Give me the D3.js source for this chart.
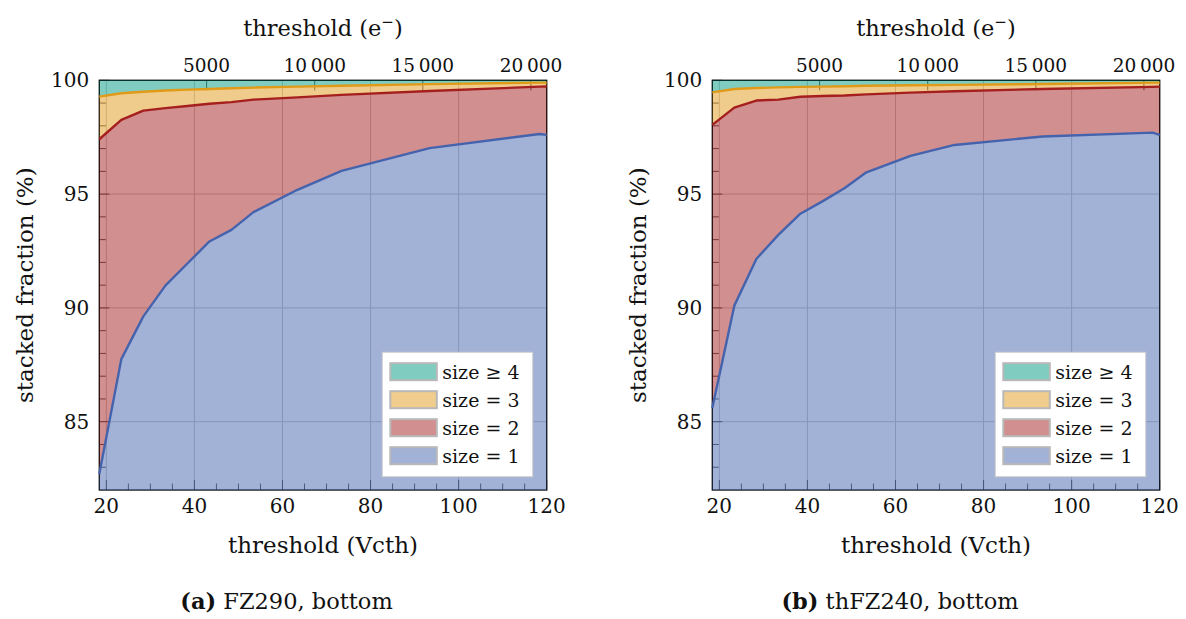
<!DOCTYPE html>
<html>
<head>
<meta charset="utf-8">
<script src="https://cdn.jsdelivr.net/npm/d3@7"></script>
<style>
  html, body { margin: 0; padding: 0; background: #fff; }
  svg { display: block; }
  text { font-family: "DejaVu Serif", serif; fill: #111; }
</style>
</head>
<body>
<svg id="chart" width="1186" height="619"></svg>
<script>
// ---------------- data ----------------
const vcth = [18.4, 23.4, 28.4, 33.4, 38.4, 43.4, 48.4, 53.4, 63.4, 73.4, 93.4, 118.4, 120];

// FZ290, bottom (fractions in %)
const fz290Size1 = [82.7, 87.75, 89.63, 90.98, 91.95, 92.92, 93.43, 94.21, 95.19, 96.02, 97.02, 97.64, 97.6];
const fz290Size2 = [14.71, 10.51, 9.04, 7.80, 6.92, 6.05, 5.61, 4.94, 4.06, 3.34, 2.51, 2.08, 2.13];
const fz290Size3 = [1.87, 1.17, 0.83, 0.77, 0.72, 0.65, 0.61, 0.53, 0.47, 0.40, 0.30, 0.18, 0.17];
const fz290Size4 = [0.72, 0.57, 0.50, 0.45, 0.41, 0.38, 0.35, 0.32, 0.28, 0.24, 0.17, 0.10, 0.10];

// thFZ240, bottom (fractions in %)
const th240Size1 = [85.6, 90.1, 92.15, 93.21, 94.14, 94.68, 95.26, 95.96, 96.68, 97.16, 97.53, 97.70, 97.6];
const th240Size2 = [12.44, 8.70, 6.96, 5.94, 5.14, 4.63, 4.07, 3.42, 2.78, 2.36, 2.09, 2.01, 2.12];
const th240Size3 = [1.43, 0.82, 0.55, 0.54, 0.43, 0.41, 0.41, 0.38, 0.32, 0.28, 0.22, 0.19, 0.18];
const th240Size4 = [0.53, 0.38, 0.34, 0.31, 0.29, 0.28, 0.26, 0.24, 0.22, 0.20, 0.16, 0.10, 0.10];

const seriesKeys = ["s1", "s2", "s3", "s4"];
const legendLabels = ["size = 1", "size = 2", "size = 3", "size \u2265 4"];

const xDomain = [18.4, 120];
const yDomain = [82, 100];
const electronDomain = [36, 20730];   // top axis range matching Vcth 18.4 .. 120

const xMajorTicks = [20, 40, 60, 80, 100, 120];
const xMinorTicks = [25, 30, 35, 45, 50, 55, 65, 70, 75, 85, 90, 95, 105, 110, 115];
const yMajorTicks = [85, 90, 95, 100];
const yMinorTicks = [83, 84, 86, 87, 88, 89, 91, 92, 93, 94, 96, 97, 98, 99];
const topTicks = [5000, 10000, 15000, 20000];
const topTickLabels = ["5000", "10\u2009000", "15\u2009000", "20\u2009000"];

const panels = [
  { x0: 99.3, letter: "(a)", caption: " FZ290, bottom", capCx: 286.5,
    series: [fz290Size1, fz290Size2, fz290Size3, fz290Size4] },
  { x0: 712.3, letter: "(b)", caption: " thFZ240, bottom", capCx: 900,
    series: [th240Size1, th240Size2, th240Size3, th240Size4] }
];

// ---------------- styles ----------------
const lineColors = ["#4563ad", "#a51f1f", "#e09a18", "#019981"];
const plotW = 447.4, plotTop = 80.3, plotBottom = 490;
const svg = d3.select("#chart");

panels.forEach((p, pi) => {
  const g = svg.append("g");
  const x = d3.scaleLinear().domain(xDomain).range([p.x0, p.x0 + plotW]);
  const y = d3.scaleLinear().domain(yDomain).range([plotBottom, plotTop]);
  const xTop = d3.scaleLinear().domain(electronDomain).range([p.x0, p.x0 + plotW]);

  const clipId = "clip" + pi;
  svg.append("clipPath").attr("id", clipId).append("rect")
    .attr("x", p.x0).attr("y", plotTop).attr("width", plotW).attr("height", plotBottom - plotTop);

  // grid (below)
  g.selectAll(".gx").data(xMajorTicks).join("line")
    .attr("x1", d => x(d)).attr("x2", d => x(d)).attr("y1", plotTop).attr("y2", plotBottom)
    .attr("stroke", "#c4c4c4").attr("stroke-width", 1);
  g.selectAll(".gy").data(yMajorTicks).join("line")
    .attr("y1", d => y(d)).attr("y2", d => y(d)).attr("x1", p.x0).attr("x2", p.x0 + plotW)
    .attr("stroke", "#c4c4c4").attr("stroke-width", 1);

  // ticks (below fills)
  const tk = g.append("g").attr("stroke", "#222").attr("stroke-width", 0.8);
  tk.selectAll(".xM").data(xMajorTicks).join("line")
    .attr("x1", d => x(d)).attr("x2", d => x(d)).attr("y1", plotBottom).attr("y2", plotBottom - 10);
  tk.selectAll(".xm").data(xMinorTicks).join("line")
    .attr("x1", d => x(d)).attr("x2", d => x(d)).attr("y1", plotBottom).attr("y2", plotBottom - 6.5);
  tk.selectAll(".yM").data(yMajorTicks).join("line")
    .attr("y1", d => y(d)).attr("y2", d => y(d)).attr("x1", p.x0).attr("x2", p.x0 + 10);
  tk.selectAll(".ym").data(yMinorTicks).join("line")
    .attr("y1", d => y(d)).attr("y2", d => y(d)).attr("x1", p.x0).attr("x2", p.x0 + 6.5);
  tk.selectAll(".tM").data(topTicks).join("line")
    .attr("x1", d => xTop(d)).attr("x2", d => xTop(d)).attr("y1", plotTop).attr("y2", plotTop + 10);

  // frame (below fills)
  g.append("rect").attr("x", p.x0).attr("y", plotTop).attr("width", plotW).attr("height", plotBottom - plotTop)
    .attr("fill", "none").attr("stroke", "#000").attr("stroke-width", 1.3);

  // stacked data
  const rows = vcth.map((v, i) => {
    const r = { v };
    seriesKeys.forEach((k, j) => r[k] = p.series[j][i]);
    return r;
  });
  const stacked = d3.stack().keys(seriesKeys)(rows);

  const area = d3.area().x(d => x(d.data.v)).y0(d => y(d[0])).y1(d => y(d[1]));
  const line = d3.line().x(d => x(d.data.v)).y(d => y(d[1]));

  const plotG = g.append("g").attr("clip-path", `url(#${clipId})`);
  plotG.selectAll(".area").data(stacked).join("path")
    .attr("d", area).attr("fill", (d, i) => lineColors[i]).attr("fill-opacity", 0.5);
  g.selectAll(".ln").data(stacked.slice(0, 3)).join("path")
    .attr("d", line).attr("fill", "none").attr("stroke", (d, i) => lineColors[i])
    .attr("stroke-width", 2.4).attr("stroke-linejoin", "round");

  // tick labels
  g.selectAll(".xl").data(xMajorTicks).join("text")
    .attr("x", d => x(d)).attr("y", 513).attr("text-anchor", "middle")
    .attr("font-size", 20).text(d => d);
  g.selectAll(".yl").data(yMajorTicks).join("text")
    .attr("x", p.x0 - 10).attr("y", d => y(d) + 7).attr("text-anchor", "end")
    .attr("font-size", 20).text(d => d);
  g.selectAll(".tl").data(topTicks).join("text")
    .attr("x", d => xTop(d)).attr("y", 72).attr("text-anchor", "middle")
    .attr("font-size", 18.5).text((d, i) => topTickLabels[i]);

  // titles
  const cx = p.x0 + plotW / 2;
  g.append("text").attr("x", cx).attr("y", 553)
    .attr("text-anchor", "middle").attr("font-size", 23).text("threshold (Vcth)");
  const tt = g.append("text").attr("x", cx).attr("y", 36)
    .attr("text-anchor", "middle").attr("font-size", 22.5);
  tt.append("tspan").text("threshold (e");
  tt.append("tspan").attr("dy", -9).attr("font-size", 15).text("\u2212");
  tt.append("tspan").attr("dy", 9).text(")");
  g.append("text").attr("transform", `translate(${p.x0 - 66},${(plotTop + plotBottom) / 2}) rotate(-90)`)
    .attr("text-anchor", "middle").attr("font-size", 23).text("stacked fraction (%)");

  // caption
  const cap = g.append("text").attr("x", p.capCx).attr("y", 609)
    .attr("text-anchor", "middle").attr("font-size", 22.5);
  cap.append("tspan").attr("font-weight", "bold").text(p.letter);
  cap.append("tspan").text(p.caption);

  // legend
  const lg = g.append("g");
  const lx = p.x0 + 283, ly = 352.3;
  lg.append("rect").attr("x", lx).attr("y", ly).attr("width", 150.4).attr("height", 124.4)
    .attr("fill", "#fff").attr("stroke", "#cfcfcf").attr("stroke-width", 1);
  const order = [3, 2, 1, 0];
  order.forEach((si, r) => {
    const cy = ly + 19.4 + r * 28;
    lg.append("rect").attr("x", lx + 8).attr("y", cy - 8.5).attr("width", 46.5).attr("height", 17)
      .attr("fill", d3.interpolateRgb(lineColors[si], "#fff")(0.5))
      .attr("stroke", "#b8b8b8").attr("stroke-width", 2);
    lg.append("text").attr("x", lx + 60).attr("y", cy + 7)
      .attr("font-size", 19).text(legendLabels[si]);
  });
});
</script>
</body>
</html>
